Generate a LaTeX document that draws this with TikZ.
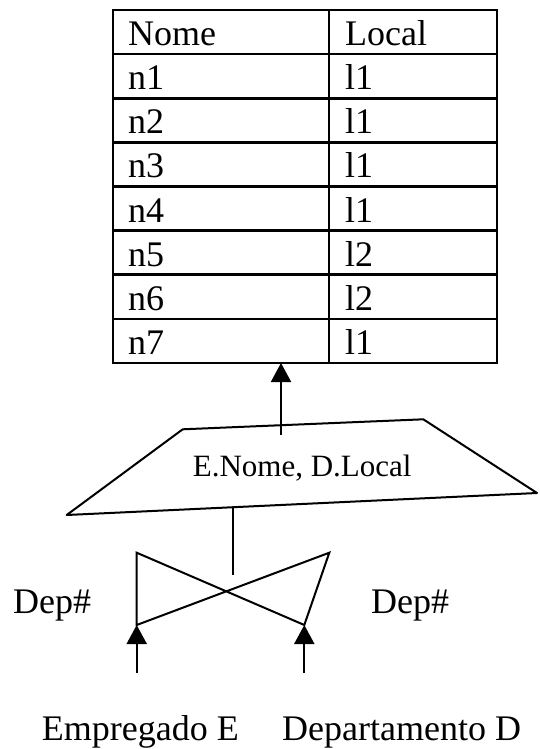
\documentclass[tikz,border=0pt]{standalone}
\usepackage{fontspec}
\setmainfont{Liberation Serif}
\usetikzlibrary{arrows.meta}

\tikzset{
    big/.style={font=\fontsize{36}{40}\selectfont, inner sep=0pt, anchor=base west},
    small/.style={font=\fontsize{31}{36}\selectfont, inner sep=0pt, anchor=base west},
    up/.style={-{Triangle[width=20pt,length=19pt]}, line width=2pt},
}

\begin{document}
\begin{tikzpicture}[x=1pt, y=-1pt]
        \useasboundingbox (0,0) rectangle (540,749);

        % Table:
        \draw[line width=2.7pt] (113,10) rectangle (497,363);
        \draw[line width=2.7pt] (329,10) -- (329,363);
        \foreach \r in {1,...,7}
            \draw[line width=2.7pt] (113,10+44.125*\r) -- (497,10+44.125*\r);

        \node(HNome)  [big] at (128,45.5) {Nome};
        \node(HLocal) [big] at (345,45.5) {Local};
        \node(N1) [big] at (128,89.6) {n1};    \node(L1) [big] at (345,89.6) {l1};
        \node(N2) [big] at (128,133.75) {n2};  \node(L2) [big] at (345,133.75) {l1};
        \node(N3) [big] at (128,177.9) {n3};   \node(L3) [big] at (345,177.9) {l1};
        \node(N4) [big] at (128,222) {n4};     \node(L4) [big] at (345,222) {l1};
        \node(N5) [big] at (128,266.1) {n5};   \node(L5) [big] at (345,266.1) {l2};
        \node(N6) [big] at (128,310.25) {n6};  \node(L6) [big] at (345,310.25) {l2};
        \node(N7) [big] at (128,354.4) {n7};   \node(L7) [big] at (345,354.4) {l1};

        % Projection:
        \coordinate(TBot) at (281,363);
        \coordinate(PTop) at (281,435);
        \draw[up] (PTop) -- (TBot);
        \draw[line width=2pt, line join=round] (182.7,429.3) -- (423.3,419.3) -- (537,493) -- (66.7,515) -- cycle;
        \node(PROJ) [small] at (192.7,476) {E.Nome, D.Local};

        % Join:
        \coordinate(PBot) at (233,507.5);
        \coordinate(JMid) at (233,575);
        \draw[line width=2pt] (PBot) -- (JMid);
        \coordinate(JTL) at (136.7,552.7);
        \coordinate(JBL) at (136.7,625);
        \coordinate(JTR) at (329.3,552.7);
        \coordinate(JBR) at (304.3,625);
        \draw[line width=2pt] (JTL) -- (JBR) -- (JTR) -- (JBL) -- cycle;
        \node(DepL) [big] at (13,613.3) {Dep\#};
        \node(DepR) [big] at (371,613.3) {Dep\#};

        % Relations:
        \coordinate(EIn) at (136.7,673);
        \coordinate(DIn) at (304.3,673);
        \draw[up] (EIn) -- (JBL);
        \draw[up] (DIn) -- (JBR);
        \node(EMP) [big] at (41.7,740) {Empregado E};
        \node(DEP) [big] at (282,740) {Departamento D};

    \end{tikzpicture}
\end{document}
